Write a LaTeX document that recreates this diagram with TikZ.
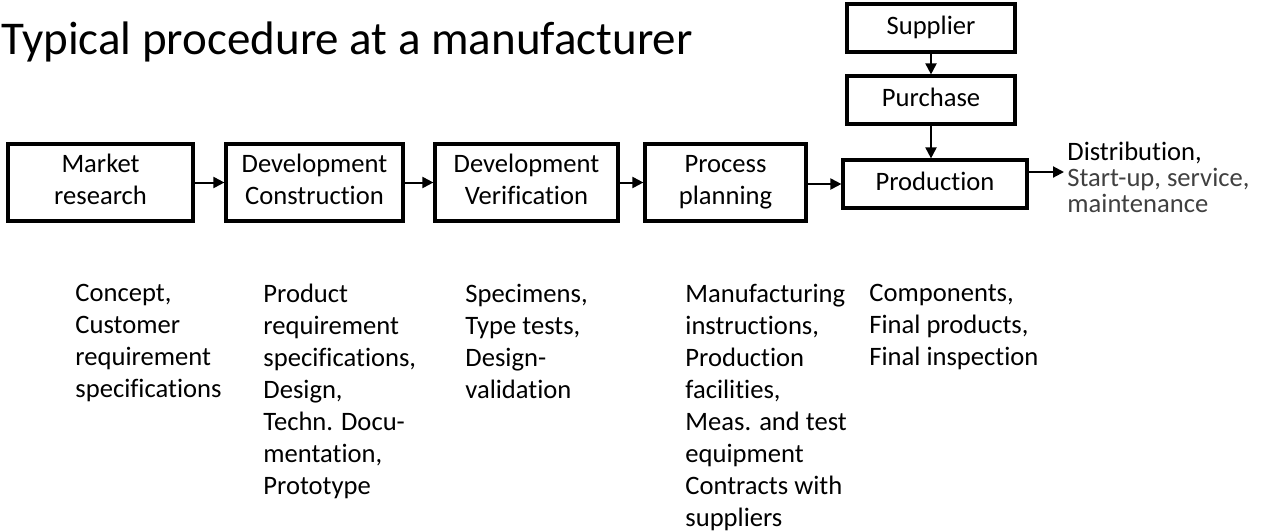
\documentclass[tikz,border=0pt]{standalone}
\usepackage{fontspec}
\setmainfont{Carlito}[Ligatures=NoCommon]
\usetikzlibrary{arrows.meta}
\begin{document}
\begin{tikzpicture}[x=0.5pt,y=-0.5pt,
    stepbox/.style={draw, line width=1.6pt, align=center, inner sep=0pt,
      minimum height=38.5pt, font=\fontsize{13.3}{16}\selectfont},
    smallbox/.style={stepbox, minimum height=24pt},
    flow/.style={-{Triangle[length=5.5pt,width=5.5pt]}, line width=1pt},
    note/.style={anchor=north west, align=left, inner sep=0pt,
      font=\fontsize{13.3}{16}\selectfont}]
        \useasboundingbox (0,0) rectangle (1261,531);

        % Title
        \node[anchor=base west, inner sep=0pt, font=\fontsize{23.5}{28}\selectfont]
            (title) at (1,54) {Typical procedure at a manufacturer};

        % Main chain of steps
        \node[stepbox, minimum width=92.5pt] (market) at (100.5,182.5) {Market\strut\\research\strut};
        \node[stepbox, minimum width=88.5pt] (construct) at (314.5,182.5) {Development\strut\\Construction\strut};
        \node[stepbox, minimum width=91.5pt] (verify) at (526.5,182.5) {Development\strut\\Verification\strut};
        \node[stepbox, minimum width=80.5pt] (planning) at (725.5,182.5) {Process\strut\\planning\strut};
        \node[smallbox, minimum width=92pt] (production) at (935,184) {Production\strut};

        % Supply side
        \node[smallbox, minimum width=84pt] (supplier) at (931,28) {Supplier\strut};
        \node[smallbox, minimum width=84pt] (purchase) at (931,100) {Purchase\strut};

        % Output
        \node[anchor=north west, align=left, inner sep=0pt, font=\fontsize{13.3}{13}\selectfont]
            (distribution) at (1067,142) {Distribution,\\\textcolor{black!75}{Start-up, service,}\\\textcolor{black!75}{maintenance}};
        \coordinate (distin) at (1064,172);

        % Arrows
        \draw[flow] (market) -- (construct);
        \draw[flow] (construct) -- (verify);
        \draw[flow] (verify) -- (planning);
        \draw[flow] (planning.east |- production) -- (production);
        \draw[flow] (production.east |- distin) -- (distin);
        \draw[flow] (supplier) -- (purchase);
        \draw[flow] (purchase) -- (purchase |- production.north);

        % Results of each step
        \node[note] (concept) at (75,284) {Concept,\\Customer\\requirement\\specifications};
        \node[note] (product) at (263,284) {Product\\requirement\\specifications,\\Design,\\Techn. Docu-\\mentation,\\Prototype};
        \node[note] (specimens) at (465,284) {Specimens,\\Type tests,\\Design-\\validation};
        \node[note] (manufacturing) at (685,284) {Manufacturing\\instructions,\\Production\\facilities,\\Meas. and test\\equipment\\Contracts with\\suppliers};
        \node[note] (components) at (869,284) {Components,\\Final products,\\Final inspection};
\end{tikzpicture}
\end{document}
